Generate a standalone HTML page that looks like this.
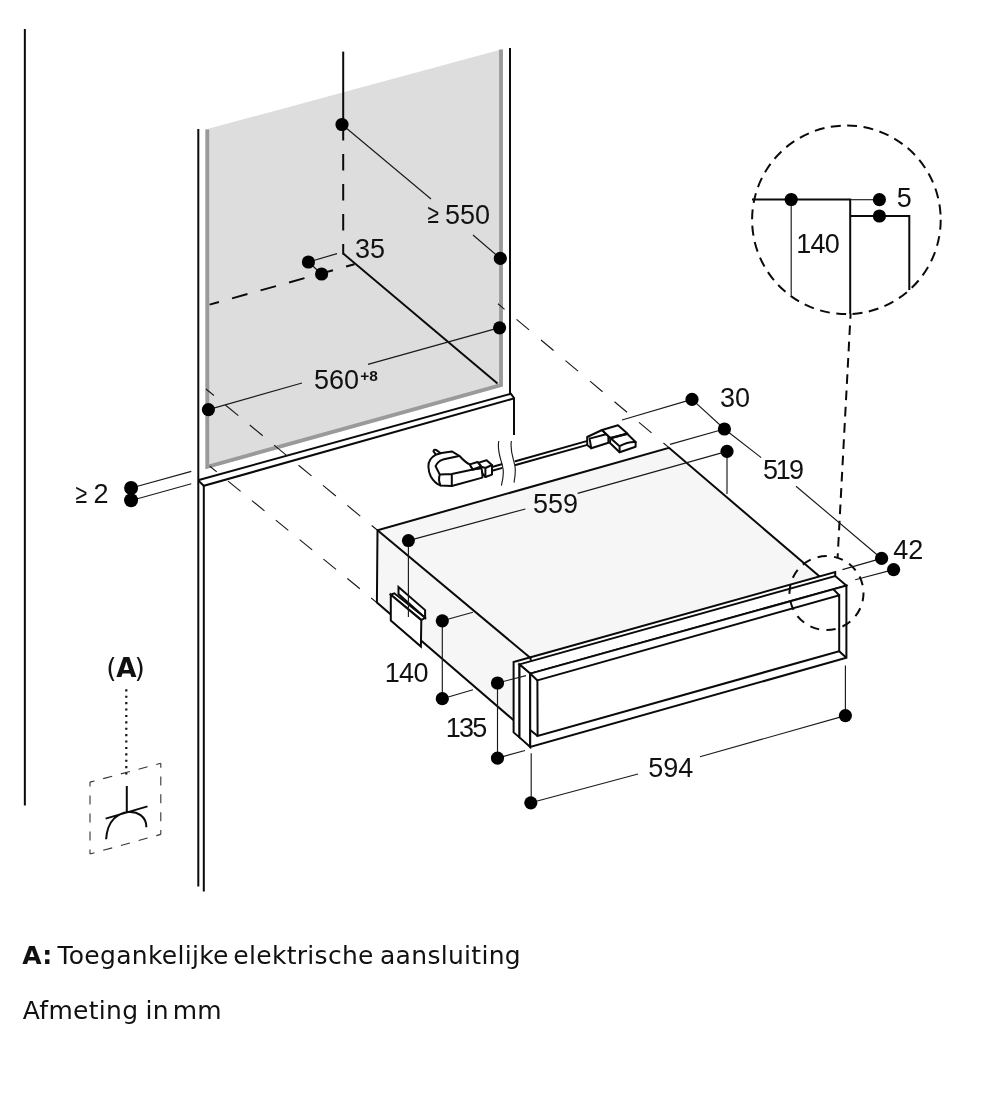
<!DOCTYPE html>
<html lang="nl">
<head>
<meta charset="utf-8">
<title>Afmeting in mm</title>
<style>
html,body{margin:0;padding:0;background:#fff;}
body{width:1000px;height:1102px;overflow:hidden;position:relative;font-family:"Liberation Sans",sans-serif;color:#111;}
svg{position:absolute;left:0;top:0;display:block;will-change:transform;-webkit-font-smoothing:antialiased;}
.k{stroke:#0a0a0a;stroke-width:2;fill:none;stroke-linecap:butt;stroke-linejoin:miter;}
.m{stroke:#0a0a0a;stroke-width:2;fill:none;stroke-linejoin:round;stroke-linecap:round;}
.kf{stroke:#0a0a0a;stroke-width:2;fill:#fff;stroke-linejoin:miter;}
.mf{stroke:#0a0a0a;stroke-width:2;fill:#fff;stroke-linejoin:round;stroke-linecap:round;}
.t{stroke:#1a1a1a;stroke-width:1.15;fill:none;}
.d{fill:#000;stroke:none;}
text{font-family:"Liberation Sans",sans-serif;fill:#111;}
.n{font-size:27px;}
</style>
</head>
<body>
<svg width="1000" height="1102" viewBox="0 0 1000 1102">
<!-- SECTION:niche -->
<g id="niche">
<polygon points="205.5,129.5 503,49 503,386.6 205.5,469.2" fill="#dddddd"/>
<polyline points="207.3,129.5 207.3,466.8 501,385.1 501,49.5" fill="none" stroke="#9a9a9a" stroke-width="3.8"/>
<!-- far left wall line -->
<line class="k" x1="24.85" y1="29" x2="24.85" y2="805.5"/>
<!-- cabinet sides -->
<line class="k" x1="198.3" y1="129" x2="198.3" y2="886.6"/>
<line class="k" x1="203.8" y1="485.6" x2="203.8" y2="891.6"/>
<line class="k" x1="510" y1="48" x2="510" y2="394"/>
<!-- shelf -->
<polyline class="k" points="198,480.3 511,393.8 514,398 514,435"/>
<polyline class="k" points="198.4,480.6 203.8,485.8 514,398.4"/>
<!-- back vertical + dashed -->
<line class="k" x1="343.2" y1="51.6" x2="343.2" y2="124"/>
<line class="k" x1="343.2" y1="124" x2="343.2" y2="254.4" stroke-dasharray="16.5 13.5"/>
<line class="k" x1="343.2" y1="253.6" x2="497.5" y2="383.4"/>
<line class="k" x1="209.6" y1="304.6" x2="354.5" y2="264.2" stroke-dasharray="16 13.6" stroke-dashoffset="6.3"/>
</g>
<!-- SECTION:proj -->
<g id="proj">
<line class="t" x1="206" y1="389" x2="377.5" y2="530.3" stroke-dasharray="16.8 14.8" stroke-dashoffset="6.5"/>
<line class="t" x1="209.8" y1="466.2" x2="376.5" y2="602.4" stroke-dasharray="16.2 14.6" stroke-dashoffset="7.2"/>
<line class="t" x1="498" y1="303.8" x2="669" y2="447.6" stroke-dasharray="16.4 15.6" stroke-dashoffset="7.8"/>
</g>
<!-- SECTION:appliance -->
<g id="appliance">
<!-- top + left faces -->
<polygon points="377.5,530.3 669,447.8 820.8,577.6 530.4,658" fill="#f6f6f6"/>
<polygon points="377.5,530.3 530.4,658 514,662 514,720.6 376.9,602.6" fill="#f6f6f6"/>
<polyline class="k" points="514,720.6 376.9,602.6 377.5,530.3 669,447.8 820.8,577.6"/>
<line class="k" x1="377.5" y1="530.3" x2="530.8" y2="658.2"/>
<!-- bracket on left face -->
<polygon class="kf" points="398.5,587 425.1,610.1 425.1,617.8 398.5,594"/>
<polygon class="kf" points="390.8,594.7 394.3,593.3 425.1,617.8 421.6,619.9"/>
<polygon class="kf" points="390.8,594.7 421.3,620.2 420.9,646.5 390.8,620.6"/>
<!-- front panel -->
<polygon class="kf" points="513.6,662 530.6,657.2 835.2,572 835.2,577 519.5,665.5 519.5,737.4 513.6,732.4"/>
<polygon class="kf" points="519.5,664.4 835.2,576 846.4,585.6 530.2,673.6"/>
<polygon class="kf" points="519.5,664.4 530.2,673.6 530.2,747 519.5,737.4"/>
<polygon class="kf" points="530.2,673.6 846.4,585.6 846.4,657.8 530.2,747"/>
<polygon class="kf" points="537.4,680.4 839.2,595.2 839.2,651.2 537.6,736"/>
<path class="k" d="M530.2,673.6 L537.4,680.4 M530.2,730 L537.6,736 M833.5,589.4 L839.2,595.2 M839.2,651.2 L846.4,657.8"/>
<line class="k" x1="530.6" y1="656.6" x2="530.6" y2="660.6"/>
</g>
<!-- SECTION:plug -->
<g id="plug">
<!-- plug body -->
<path class="mf" d="M436.2,455 L433.5,451.4 Q433.6,449.2 436,449.9 L440.8,453.2"/>
<path class="mf" d="M435.6,454.8 C430.5,457.5 428.2,462.5 428.4,466.8 C428.6,471 429.5,474 430.8,476.4 C433,480.3 437,484 440.4,485.4 L451.8,486 L482.4,477.6 L482.4,468 L472.8,469.4 L469.8,464.4 C466,462.8 462.8,459.6 459.6,456 L451.8,451.4 L441.6,453 Z"/>
<path class="m" d="M459,456 L442.8,459.6 C439.6,460.6 437,462.8 435.6,466.2 L439.8,474.6 L451.8,474 L480,468 M439.8,474.6 C438.6,478 439,482 440.4,485.4 M451.8,474 L451.8,486"/>
<path class="mf" d="M469.8,464.4 L477.6,462 L481.2,466.4 L472.8,469.4 Z"/>
<path class="mf" d="M478.8,462.6 L486.6,460.2 L492,465 L492,474.6 L485.4,477 L482.4,473.5 L481.2,466.6 Z"/>
<path class="m" d="M481.2,466.6 L485.4,468 L492,465 M485.4,468 L485.4,477"/>
<!-- cord -->
<path class="m" d="M492,467 L501.6,464.3 M492,470.8 L501.6,468.1" stroke-width="1.5"/>
<path class="m" d="M515.4,461.2 L588.4,440.6 M515.6,465 L589.2,444.4" stroke-width="1.5"/>
<!-- break marks -->
<path class="t" d="M498.8,441 C496.5,452 502.5,462 503.2,470 C503.8,476 502.5,481 501.4,485.6 M511.4,441 C509.5,452 514.5,460 515.2,468 C515.6,474 514.8,478 514,482.6"/>
<!-- connector -->
<path class="mf" d="M587.2,437 L602,430 L608.4,436.4 L608.4,442.8 L591.2,448.2 L587.2,445 Z"/>
<path class="m" d="M589.6,438.6 L606,434.2 M589.6,438.6 L591.2,448.2"/>
<path class="mf" d="M602,430 L618,425.2 L627.4,433.4 L610.4,438 Z"/>
<path class="mf" d="M610.4,438 L627.4,434 L635.6,442 L635.6,446.8 L619.6,452.2 L610,443 Z"/>
<path class="m" d="M619.6,446.2 Q628,441.5 635.6,442 M619.6,446.2 L619.6,452.2 M610.4,438 L619.6,446.2"/>
<path class="k" d="M611,438.4 L627,433.8" stroke-width="2.6"/>
</g>
<!-- SECTION:detail -->
<g id="detail">
<circle cx="846.4" cy="219.8" r="94.3" class="k" stroke-dasharray="10 6.46"/>
<line class="k" x1="850.6" y1="313.8" x2="837.6" y2="557.6" stroke-dasharray="9.7 6.6" stroke-dashoffset="4.7"/>
<circle cx="826.5" cy="593.1" r="37" class="k" stroke-dasharray="9.3 7.306" stroke-dashoffset="1"/>
<polyline class="k" points="752,199.5 850.2,199.5 850.2,314"/>
<polyline class="k" points="850.2,216 909.3,216 909.3,290"/>
<line class="t" x1="850" y1="199.7" x2="879.5" y2="199.7"/>
<line class="t" x1="791.2" y1="199.5" x2="791.2" y2="295.6"/>
<circle class="d" cx="791.2" cy="199.5" r="6.6"/>
<circle class="d" cx="879.4" cy="199.7" r="6.6"/>
<circle class="d" cx="879.4" cy="216" r="6.6"/>
<text class="n" x="796.2 810.5 824.8" y="253">140</text>
<text class="n" x="904.2" y="207" text-anchor="middle">5</text>
</g>
<!-- SECTION:dims -->
<g id="dims">
<path class="t" d="M342,124.5 L431,199 M473,235 L500.3,258.4"/>
<path class="t" d="M308.4,262 L337,253.6 M308.4,262 L321.6,274"/>
<path class="t" d="M208.4,409.6 L302,383 M368,364.4 L499.6,327.6"/>
<path class="t" d="M131.2,488 L191.3,471.4 M131.2,500.5 L191.3,483.8"/>
<path class="t" d="M692,399.4 L622,420 M724.4,429 L670,444.4 M692,399.4 L724.4,429 L761.2,457.6 M796,486.2 L881.5,558.5"/>
<path class="t" d="M408.4,540.6 L525.4,509 M577.6,493.4 L727,451.4 M727,451.4 L727,494 M408.4,540.6 L408.4,617"/>
<path class="t" d="M881.6,558.4 L842.4,569.6 M893.6,569.6 L855.2,579.7"/>
<path class="t" d="M442.3,620.8 L442.3,698.7 M442.3,620.8 L473,612.2 M442.3,698.7 L473,689.8"/>
<path class="t" d="M497.5,683 L497.5,758.1 M497.5,683 L526,675.6 M497.5,758.1 L525,750.5"/>
<path class="t" d="M531.2,753.2 L531.2,802 M845.4,665.6 L845.4,715 M530.8,802.8 L638,774 M700,756.8 L845.4,715.6"/>
<g class="d">
<circle cx="342" cy="124.5" r="6.6"/><circle cx="500.3" cy="258.4" r="6.6"/>
<circle cx="308.4" cy="262" r="6.6"/><circle cx="321.6" cy="274" r="6.6"/>
<circle cx="208.4" cy="409.6" r="6.6"/><circle cx="499.6" cy="327.8" r="6.6"/>
<circle cx="131.1" cy="488" r="7"/><circle cx="131.1" cy="500.3" r="7"/>
<circle cx="692" cy="399.4" r="6.6"/><circle cx="724.4" cy="429" r="6.6"/><circle cx="727" cy="451.4" r="6.6"/>
<circle cx="408.4" cy="540.6" r="6.5"/>
<circle cx="881.6" cy="558.4" r="6.6"/><circle cx="893.6" cy="569.6" r="6.6"/>
<circle cx="442.3" cy="620.8" r="6.6"/><circle cx="442.3" cy="698.7" r="6.6"/>
<circle cx="497.5" cy="683" r="6.6"/><circle cx="497.5" cy="758.1" r="6.6"/>
<circle cx="530.8" cy="802.8" r="6.6"/><circle cx="845.4" cy="715.6" r="6.6"/>
</g>
<text class="n" x="427.4" y="223.4" font-size="26" textLength="11.4" lengthAdjust="spacingAndGlyphs">≥</text><text class="n" x="444.9" y="224">550</text>
<text class="n" x="370" y="258" text-anchor="middle">35</text>
<text class="n" x="336.6" y="389" text-anchor="middle">560</text>
<text x="369" y="381.4" text-anchor="middle" font-size="15.5" font-weight="bold">+8</text>
<text class="n" x="75.6" y="503" textLength="11.6" lengthAdjust="spacingAndGlyphs">≥</text><text class="n" x="93.6" y="503.2" font-size="26.5">2</text>
<text class="n" x="735.1" y="407" text-anchor="middle">30</text>
<text class="n" x="763.1 775.7 788.9" y="479.4">519</text>
<text class="n" x="555.5" y="513.4" text-anchor="middle">559</text>
<text class="n" x="908.2" y="559" text-anchor="middle">42</text>
<text class="n" x="384.8 399.1 413.4" y="682.2">140</text>
<text class="n" x="445.7 459 472.3" y="737.2">135</text>
<text class="n" x="670.8" y="777" text-anchor="middle">594</text>
</g>
<!-- SECTION:symbol -->
<g id="symbol">
<text y="677" font-size="25" style="font-family:'DejaVu Sans','Liberation Sans',sans-serif"><tspan x="106.3" font-size="26.5">(</tspan><tspan x="116.2" y="676.6" font-size="26.2" font-weight="bold">A</tspan><tspan x="134.4" y="677" font-size="26.5">)</tspan></text>
<line x1="126.3" y1="689.3" x2="126.3" y2="779" stroke="#111" stroke-width="2.2" stroke-dasharray="2.1 4.3"/>
<g stroke="#333" stroke-width="1.1" fill="none">
<line x1="90" y1="782.1" x2="160.8" y2="763.3" stroke-dasharray="9.3 9" stroke-dashoffset="4.65"/>
<line x1="160.8" y1="763.3" x2="160.8" y2="834.4" stroke-dasharray="9 8.78" stroke-dashoffset="4.5"/>
<line x1="160.8" y1="834.4" x2="90" y2="854" stroke-dasharray="9.3 9.06" stroke-dashoffset="4.65"/>
<line x1="90" y1="854" x2="90" y2="782.1" stroke-dasharray="9 8.98" stroke-dashoffset="4.5"/>
</g>
<path class="k" d="M126.8,786 L126.8,812.4 M105.6,818.6 L147.5,806.4 M106.1,839.3 C106.8,829 110,822.5 114,818.6 C118,814.6 123,812.6 128.5,812 C137,811.2 146.4,816 146.4,827.3" stroke-linecap="round" stroke-width="2.2"/>
</g>
<g id="caption" font-size="25" letter-spacing="0.3">
<text y="963.8" style="font-family:'DejaVu Sans','Liberation Sans',sans-serif"><tspan x="22.2" font-weight="bold">A:</tspan><tspan x="57.4">Toegankelijke</tspan><tspan x="233.3">elektrische</tspan><tspan x="380">aansluiting</tspan></text>
<text y="1019.4" style="font-family:'DejaVu Sans','Liberation Sans',sans-serif"><tspan x="22.8">Afmeting</tspan><tspan x="145.6">in</tspan><tspan x="172.7">mm</tspan></text>
</g>
</svg>
</body>
</html>
